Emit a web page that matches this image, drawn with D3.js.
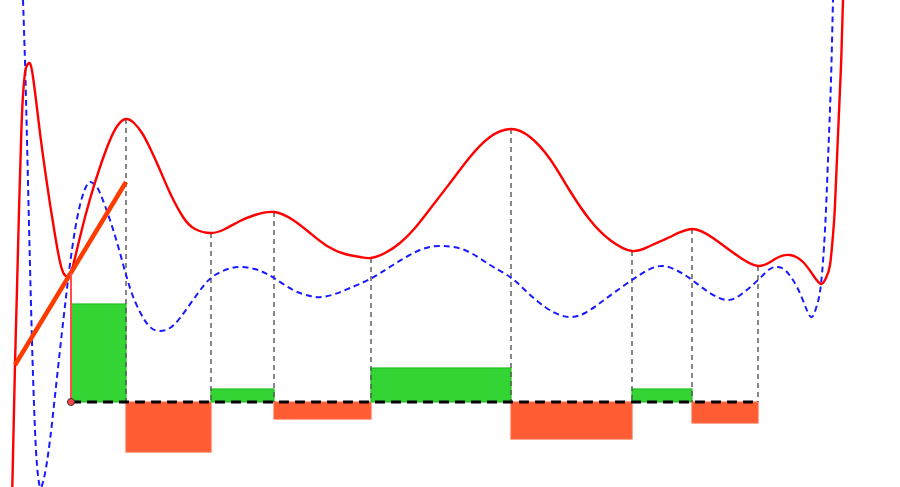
<!DOCTYPE html>
<html><head><meta charset="utf-8">
<script src="https://cdn.jsdelivr.net/npm/d3@7/dist/d3.min.js"></script>
<style>html,body{margin:0;padding:0;background:#fff;overflow:hidden}</style>
</head><body>
<svg id="chart" width="900" height="487"></svg>
<script>
// red curve f(x)
const redX = [12.3,15,16.7,19.3,21.3,22.7,24.5,26.3,29,31,33,36,40,45,50,55,60,64,67,71,80,90,100,110,118,126,134,142,150,160,170,183,195,211,225,240,255,274,293,310,327,345,360,371,385,400,415,430,450,470,490,511,530,550,570,590,610,632,650,670,692,713,735,758,775,790,803,813,821,826,830,833,835,838,841,843,845];
const redY = [-85,37,102,202,269,302,325,335,339,336,325,302,269,232,198,167,140,128,125,129,165,203,235,262,277,283,279,269,254,232,209,185,173,169,173,181,187,190,182,169,156,148,145,144,149,159,174,193,219,245,265,273,265,243,211,182,162,151,156,165,173,164,148,136,143,147,140,127,118,124,137,167,197,267,336,402,470];
// blue dashed curve
const blueX = [23,25,27,29,31,33,35,37,40,43,46,50,54,58,62,66,70,75,80,85,90,95,100,110,120,130,140,150,160,170,180,193,205,215,228,242,258,274,293,310,322,335,350,370,393,420,443,467,490,510,527,545,560,572,585,600,615,632,648,663,678,692,710,728,743,758,770,778,786,797,806,812,817,821,825,828,831,833,834];
const blueY = [402,340,262,177,97,27,-28,-63,-85,-80,-66,-38,-3,34,70,105,138,172,197,213,220,217,209,182,149,114,90,75,71,74,84,102,118,127,133,135,132,124,112,106,105,108,114,123,137,152,156,151,137,125,110,95,87,85,89,99,110,122,132,136,131,122,109,102,109,122,133,135,131,115,94,85,97,118,172,242,322,402,432];
// partition points and bar values
const partX = [71,126,211,274,371,511,632,692,758];
const barVals = [98,-50,13,-17,34,-37,13,-21];
// tangent segment endpoints
const tangentX = [15,126];
const tangentY = [37,220];

const W = 900, H = 487;
const x = d3.scaleLinear().domain([0,900]).range([0,W]);
const y = d3.scaleLinear().domain([-85,402]).range([H,0]);
const svg = d3.select('#chart');
const g = svg.append('g');

const redPts = redX.map((v,i)=>[v,redY[i]]);
const bluePts = blueX.map((v,i)=>[v,blueY[i]]);
const fAt = xv => { const i = redX.indexOf(xv); return i>=0 ? redY[i] : 0; };

const bars = barVals.map((v,i)=>({x0:partX[i], x1:partX[i+1], v}));
g.selectAll('rect.bar').data(bars).enter().append('rect')
  .attr('x', d=>x(d.x0)).attr('width', d=>x(d.x1)-x(d.x0))
  .attr('y', d=>y(Math.max(0,d.v))).attr('height', d=>Math.abs(y(d.v)-y(0)))
  .attr('fill', d=>d.v>=0 ? '#33d433' : '#ff5c33')
  .attr('stroke', d=>d.v>=0 ? '#1fc21f' : '#ff6a45')
  .attr('stroke-width', 1.2);

// vertical dashed lines at extrema
g.selectAll('line.vl').data(partX.slice(1)).enter().append('line')
  .attr('x1', d=>x(d)).attr('x2', d=>x(d))
  .attr('y1', d=>y(fAt(d))).attr('y2', y(0))
  .attr('stroke', '#555').attr('stroke-width', 1.4).attr('stroke-dasharray', '5,4');

// baseline
g.append('line')
  .attr('x1', x(partX[0])).attr('x2', x(partX[partX.length-1]))
  .attr('y1', y(0)).attr('y2', y(0))
  .attr('stroke', '#000').attr('stroke-width', 3).attr('stroke-dasharray', '10,6');

const line = d3.line().x(d=>x(d[0])).y(d=>y(d[1])).curve(d3.curveNatural);

g.append('path').attr('d', line(bluePts)).attr('fill','none')
  .attr('stroke', '#1a1aff').attr('stroke-width', 2).attr('stroke-dasharray', '6,4');

g.append('path').attr('d', line(redPts)).attr('fill','none')
  .attr('stroke', '#ff0000').attr('stroke-width', 2.4);

// tangent
g.append('line')
  .attr('x1', x(tangentX[0])).attr('y1', y(tangentY[0]))
  .attr('x2', x(tangentX[1])).attr('y2', y(tangentY[1]))
  .attr('stroke', '#ff3c00').attr('stroke-width', 4.5).attr('stroke-linecap','butt');

// vertical from start point up to curve
g.append('line')
  .attr('x1', x(partX[0])).attr('x2', x(partX[0]))
  .attr('y1', y(0)).attr('y2', y(fAt(partX[0])))
  .attr('stroke', '#ff4d4d').attr('stroke-width', 2);

g.append('circle').attr('cx', x(partX[0])).attr('cy', y(0)).attr('r', 3.5)
  .attr('fill', '#ff4444').attr('stroke', '#333').attr('stroke-width', 1);
</script>
</body></html>
